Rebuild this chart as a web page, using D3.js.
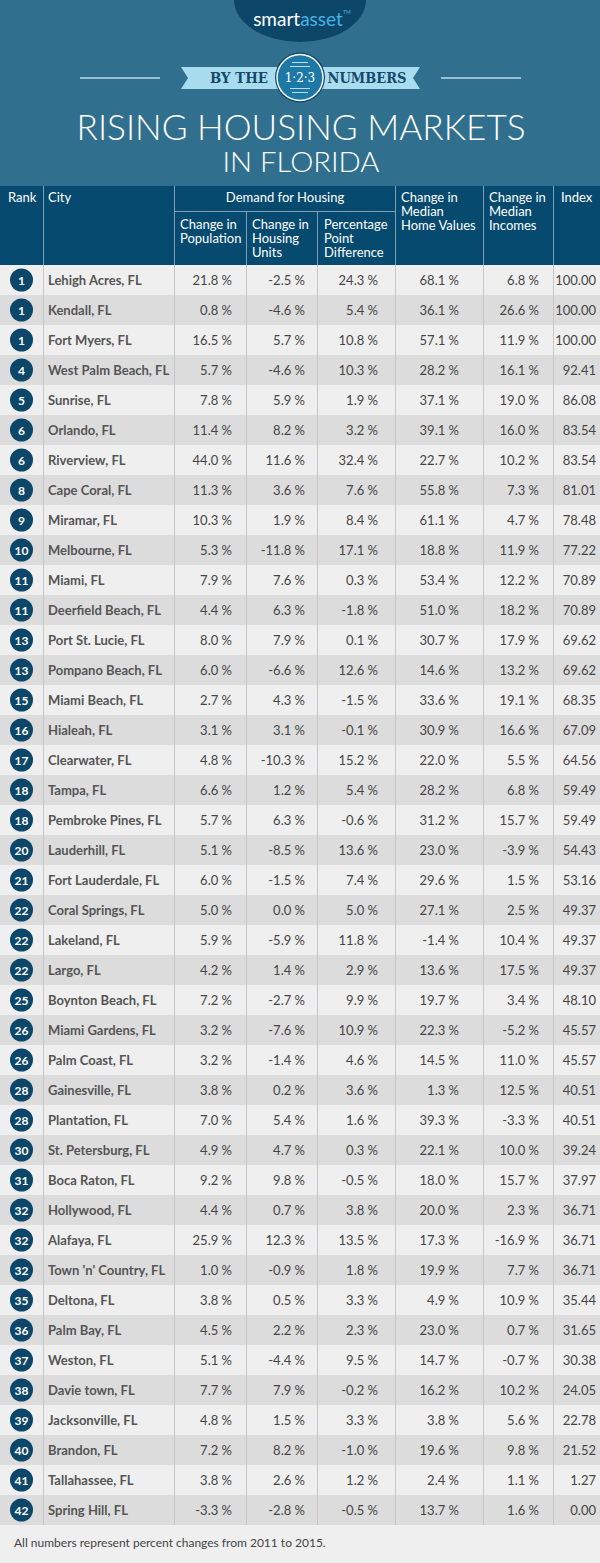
<!DOCTYPE html>
<meta charset="utf-8">
<style>
  body { margin: 0; background: #efefef; }
  svg { display: block; font-family: Lato, "Open Sans", sans-serif; }
  .hdr { fill: #fff; font-size: 13px; }
  .city { fill: #555; font-size: 13px; font-weight: 700; }
  .val { fill: #454545; font-size: 13px; text-anchor: end; }
  .rank { fill: #fff; font-size: 12px; font-weight: 700; text-anchor: middle; }
</style>
<body>
<div id="chart"></div>
<script src="https://cdnjs.cloudflare.com/ajax/libs/d3/7.8.5/d3.min.js"></script>
<script>
// data
var ranks = [1, 1, 1, 4, 5, 6, 6, 8, 9, 10, 11, 11, 13, 13, 15, 16, 17, 18, 18, 20, 21, 22, 22, 22, 25, 26, 26, 28, 28, 30, 31, 32, 32, 32, 35, 36, 37, 38, 39, 40, 41, 42];
var cities = ["Lehigh Acres, FL", "Kendall, FL", "Fort Myers, FL", "West Palm Beach, FL", "Sunrise, FL", "Orlando, FL", "Riverview, FL", "Cape Coral, FL", "Miramar, FL", "Melbourne, FL", "Miami, FL", "Deerfield Beach, FL", "Port St. Lucie, FL", "Pompano Beach, FL", "Miami Beach, FL", "Hialeah, FL", "Clearwater, FL", "Tampa, FL", "Pembroke Pines, FL", "Lauderhill, FL", "Fort Lauderdale, FL", "Coral Springs, FL", "Lakeland, FL", "Largo, FL", "Boynton Beach, FL", "Miami Gardens, FL", "Palm Coast, FL", "Gainesville, FL", "Plantation, FL", "St. Petersburg, FL", "Boca Raton, FL", "Hollywood, FL", "Alafaya, FL", "Town 'n' Country, FL", "Deltona, FL", "Palm Bay, FL", "Weston, FL", "Davie town, FL", "Jacksonville, FL", "Brandon, FL", "Tallahassee, FL", "Spring Hill, FL"];
var population = [21.8, 0.8, 16.5, 5.7, 7.8, 11.4, 44.0, 11.3, 10.3, 5.3, 7.9, 4.4, 8.0, 6.0, 2.7, 3.1, 4.8, 6.6, 5.7, 5.1, 6.0, 5.0, 5.9, 4.2, 7.2, 3.2, 3.2, 3.8, 7.0, 4.9, 9.2, 4.4, 25.9, 1.0, 3.8, 4.5, 5.1, 7.7, 4.8, 7.2, 3.8, -3.3];
var housingUnits = [-2.5, -4.6, 5.7, -4.6, 5.9, 8.2, 11.6, 3.6, 1.9, -11.8, 7.6, 6.3, 7.9, -6.6, 4.3, 3.1, -10.3, 1.2, 6.3, -8.5, -1.5, 0.0, -5.9, 1.4, -2.7, -7.6, -1.4, 0.2, 5.4, 4.7, 9.8, 0.7, 12.3, -0.9, 0.5, 2.2, -4.4, 7.9, 1.5, 8.2, 2.6, -2.8];
var pointDiff = [24.3, 5.4, 10.8, 10.3, 1.9, 3.2, 32.4, 7.6, 8.4, 17.1, 0.3, -1.8, 0.1, 12.6, -1.5, -0.1, 15.2, 5.4, -0.6, 13.6, 7.4, 5.0, 11.8, 2.9, 9.9, 10.9, 4.6, 3.6, 1.6, 0.3, -0.5, 3.8, 13.5, 1.8, 3.3, 2.3, 9.5, -0.2, 3.3, -1.0, 1.2, -0.5];
var homeValues = [68.1, 36.1, 57.1, 28.2, 37.1, 39.1, 22.7, 55.8, 61.1, 18.8, 53.4, 51.0, 30.7, 14.6, 33.6, 30.9, 22.0, 28.2, 31.2, 23.0, 29.6, 27.1, -1.4, 13.6, 19.7, 22.3, 14.5, 1.3, 39.3, 22.1, 18.0, 20.0, 17.3, 19.9, 4.9, 23.0, 14.7, 16.2, 3.8, 19.6, 2.4, 13.7];
var incomes = [6.8, 26.6, 11.9, 16.1, 19.0, 16.0, 10.2, 7.3, 4.7, 11.9, 12.2, 18.2, 17.9, 13.2, 19.1, 16.6, 5.5, 6.8, 15.7, -3.9, 1.5, 2.5, 10.4, 17.5, 3.4, -5.2, 11.0, 12.5, -3.3, 10.0, 15.7, 2.3, -16.9, 7.7, 10.9, 0.7, -0.7, 10.2, 5.6, 9.8, 1.1, 1.6];
var indexScores = [100.00, 100.00, 100.00, 92.41, 86.08, 83.54, 83.54, 81.01, 78.48, 77.22, 70.89, 70.89, 69.62, 69.62, 68.35, 67.09, 64.56, 59.49, 59.49, 54.43, 53.16, 49.37, 49.37, 49.37, 48.10, 45.57, 45.57, 40.51, 40.51, 39.24, 37.97, 36.71, 36.71, 36.71, 35.44, 31.65, 30.38, 24.05, 22.78, 21.52, 1.27, 0.00];

var W = 600, H = 1563;
var headTop = 186, headMid = 211, bodyTop = 265, bodyBottom = 1525;

var svg = d3.select("#chart").append("svg")
  .attr("width", W).attr("height", H);

// top banner
svg.append("rect").attr("width", W).attr("height", headTop).attr("fill", "#30708e");

// logo
svg.append("ellipse").attr("cx", 300).attr("cy", 0).attr("rx", 66).attr("ry", 42).attr("fill", "#0c4669");
var logo = svg.append("text").attr("x", 298).attr("y", 26).attr("text-anchor", "middle")
  .style("font-size", "19px").style("font-family", "Lato, sans-serif");
logo.append("tspan").attr("fill", "#fff").text("smart");
logo.append("tspan").attr("fill", "#45b3e3").text("asset");
svg.append("text").attr("x", 343).attr("y", 14).attr("fill", "#45b3e3").style("font-size", "5px").text("TM");

// by the numbers ribbon
svg.append("line").attr("x1", 80).attr("x2", 160).attr("y1", 78).attr("y2", 78).attr("stroke", "#b6dcee").attr("stroke-width", 1.5);
svg.append("line").attr("x1", 441).attr("x2", 521).attr("y1", 78).attr("y2", 78).attr("stroke", "#b6dcee").attr("stroke-width", 1.5);
svg.append("polygon")
  .attr("points", "181,67 420,67 413,78 420,89 181,89 188,78")
  .attr("fill", "#a9dcef");
svg.append("text").attr("x", 239).attr("y", 83).attr("text-anchor", "middle")
  .attr("textLength", 58).attr("lengthAdjust", "spacingAndGlyphs")
  .style("font-family", "'DejaVu Serif', serif").style("font-weight", 700).style("font-size", "14px")
  .attr("fill", "#144a6b").text("BY THE");
svg.append("text").attr("x", 367).attr("y", 83).attr("text-anchor", "middle")
  .attr("textLength", 79).attr("lengthAdjust", "spacingAndGlyphs")
  .style("font-family", "'DejaVu Serif', serif").style("font-weight", 700).style("font-size", "14px")
  .attr("fill", "#144a6b").text("NUMBERS");
svg.append("circle").attr("cx", 300).attr("cy", 77.5).attr("r", 25).attr("fill", "#0c4669");
svg.append("circle").attr("cx", 300).attr("cy", 77.5).attr("r", 23).attr("fill", "#1e78a6").attr("stroke", "#fff").attr("stroke-width", 1.5);
[62.5, 66.5, 88.5, 92.5].forEach(function(y, i) {
  var half = (i === 0 || i === 3) ? 8 : 10;
  svg.append("line").attr("x1", 300 - half).attr("x2", 300 + half).attr("y1", y).attr("y2", y)
    .attr("stroke", "#b6dcee").attr("stroke-width", 1);
});
svg.append("text").attr("x", 300).attr("y", 82).attr("text-anchor", "middle")
  .style("font-family", "'DejaVu Serif', serif").style("font-size", "12px")
  .attr("fill", "#fff").text("1·2·3");

// title
svg.append("text").attr("x", 301).attr("y", 140).attr("text-anchor", "middle")
  .attr("textLength", 449).attr("lengthAdjust", "spacingAndGlyphs")
  .style("font-size", "35px").style("font-weight", 300).attr("fill", "#fff")
  .text("RISING HOUSING MARKETS");
svg.append("text").attr("x", 301).attr("y", 172).attr("text-anchor", "middle")
  .attr("textLength", 157).attr("lengthAdjust", "spacingAndGlyphs")
  .style("font-size", "28px").style("font-weight", 300).attr("fill", "#fff")
  .text("IN FLORIDA");

// table header
var cols = [0, 43, 174, 246, 317, 395, 483, 553, 600];
svg.append("rect").attr("y", headTop).attr("width", W).attr("height", bodyTop - headTop).attr("fill", "#064a6f");

var hdrLine = "#7f9fb4";
[43, 174, 395, 483, 553].forEach(function(x) {
  svg.append("line").attr("x1", x + 0.5).attr("x2", x + 0.5).attr("y1", headTop).attr("y2", bodyTop).attr("stroke", hdrLine);
});
[246, 317].forEach(function(x) {
  svg.append("line").attr("x1", x + 0.5).attr("x2", x + 0.5).attr("y1", headMid).attr("y2", bodyTop).attr("stroke", hdrLine);
});
svg.append("line").attr("x1", 174).attr("x2", 395).attr("y1", headMid + 0.5).attr("y2", headMid + 0.5).attr("stroke", hdrLine);

function hdr(x, y, lines, anchor) {
  var t = svg.append("text").attr("class", "hdr").attr("x", x).attr("y", y)
    .attr("text-anchor", anchor || "start");
  lines.forEach(function(l, i) {
    t.append("tspan").attr("x", x).attr("dy", i ? 14 : 0).text(l);
  });
}
hdr(8, 202, ["Rank"]);
hdr(48, 202, ["City"]);
hdr(285, 202, ["Demand for Housing"], "middle");
hdr(180, 229, ["Change in", "Population"]);
hdr(252, 229, ["Change in", "Housing", "Units"]);
hdr(324, 229, ["Percentage", "Point", "Difference"]);
hdr(401, 202, ["Change in", "Median", "Home Values"]);
hdr(489, 202, ["Change in", "Median", "Incomes"]);
hdr(561, 202, ["Index"]);

// body rows
var y = d3.scaleBand().domain(d3.range(cities.length)).range([bodyTop, bodyBottom]);
var pct = function(v) { return v.toFixed(1) + " %"; };
var idx = function(v) { return v.toFixed(2); };

var rows = svg.append("g").selectAll("g").data(cities).join("g")
  .attr("transform", function(d, i) { return "translate(0," + y(i) + ")"; });

rows.append("rect").attr("width", W).attr("height", y.bandwidth())
  .attr("fill", function(d, i) { return i % 2 ? "#dcdcdc" : "#efefef"; });
rows.append("circle").attr("cx", 21.5).attr("cy", y.bandwidth() / 2).attr("r", 11.5).attr("fill", "#0c4669");
rows.append("text").attr("class", "rank").attr("x", 21.5).attr("y", y.bandwidth() / 2 + 4.5)
  .text(function(d, i) { return ranks[i]; });
rows.append("text").attr("class", "city").attr("x", 48).attr("y", y.bandwidth() / 2 + 4.5)
  .text(function(d) { return d; });

var valueCols = [
  { arr: population, x: 232, f: pct },
  { arr: housingUnits, x: 305, f: pct },
  { arr: pointDiff, x: 378, f: pct },
  { arr: homeValues, x: 459, f: pct },
  { arr: incomes, x: 539, f: pct },
  { arr: indexScores, x: 596, f: idx }
];
valueCols.forEach(function(c) {
  rows.append("text").attr("class", "val").attr("x", c.x).attr("y", y.bandwidth() / 2 + 4.5)
    .text(function(d, i) { return c.f(c.arr[i]); });
});

// body grid lines
cols.slice(1, -1).forEach(function(x) {
  svg.append("line").attr("x1", x + 0.5).attr("x2", x + 0.5).attr("y1", bodyTop).attr("y2", bodyBottom)
    .attr("stroke", "#c6c6c6");
});

// footer
svg.append("rect").attr("y", bodyBottom).attr("width", W).attr("height", H - bodyBottom).attr("fill", "#efefef");
svg.append("text").attr("x", 14).attr("y", 1547).attr("fill", "#444").style("font-size", "12px")
  .text("All numbers represent percent changes from 2011 to 2015.");
</script>
</body>
